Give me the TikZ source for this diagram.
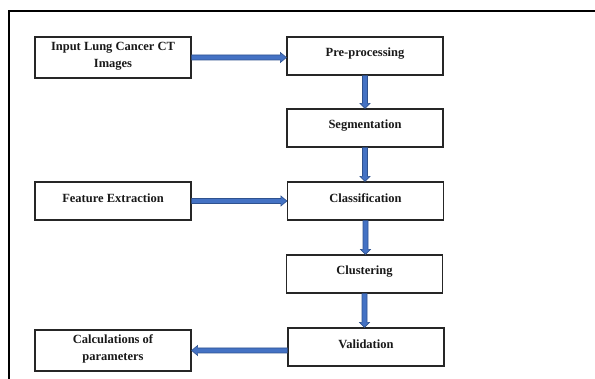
\documentclass[tikz,border=0pt]{standalone}
\usepackage{fontspec}
\setmainfont{Liberation Serif}
\usetikzlibrary{calc}
\definecolor{arrblue}{HTML}{4472C4}
\definecolor{arredge}{HTML}{2F528F}
\tikzset{
  box/.style={draw=black!85, line width=1.2pt, minimum width=156pt, minimum height=38pt, inner sep=0pt},
  lbl/.style={font=\fontsize{12.5}{17}\selectfont\bfseries, align=center, yshift=2.5pt, text=black!90},
  barrow/.style={fill=arrblue, draw=arredge, line width=0.6pt, line join=miter},
}
\begin{document}
\begin{tikzpicture}[x=1pt,y=-1pt]
\useasboundingbox (0,0) rectangle (595,379);
% frame
\draw[line width=2pt] (9,379) -- (9,11) -- (595,11);
% boxes
\node[box, minimum height=41pt, label={[lbl,yshift=-1pt,name=inpT]center:Input Lung Cancer CT\\Images}] (inp) at (113,57.5) {};
\node[box, label={[lbl,name=preT]center:Pre-processing}] (pre) at (365,56) {};
\node[box, label={[lbl,name=segT]center:Segmentation}] (seg) at (365,128) {};
\node[box, label={[lbl,name=claT]center:Classification}] (cla) at (365.5,201) {};
\node[box, label={[lbl,name=cluT]center:Clustering}] (clu) at (364.5,274) {};
\node[box, label={[lbl,name=valT]center:Validation}] (val) at (366,347) {};
\node[box, label={[lbl,name=feaT]center:Feature Extraction}] (fea) at (113,201) {};
\node[box, minimum height=41pt, label={[lbl,yshift=-1pt,name=calT]center:Calculations of\\parameters}] (cal) at (113,350.5) {};
% horizontal arrows (right)
\foreach \a/\b in {inp/pre, fea/cla}{
  \draw[barrow] ($(\a.east)+(0,-2.5)$) -- ($(\a.east -| \b.west)+(-6,-2.5)$) -- ($(\a.east -| \b.west)+(-6,-5)$)
    -- (\a.east -| \b.west) -- ($(\a.east -| \b.west)+(-6,5)$) -- ($(\a.east -| \b.west)+(-6,2.5)$) -- ($(\a.east)+(0,2.5)$) -- cycle;
}
% left arrow
\draw[barrow] ($(val.west |- cal.east)+(0,-2.5)$) -- ($(cal.east)+(6,-2.5)$) -- ($(cal.east)+(6,-5)$)
  -- (cal.east) -- ($(cal.east)+(6,5)$) -- ($(cal.east)+(6,2.5)$) -- ($(val.west |- cal.east)+(0,2.5)$) -- cycle;
% vertical arrows
\foreach \a/\b in {pre/seg, seg/cla, cla/clu, clu/val}{
  \draw[barrow] ($(\a.south)+(-2.5,0)$) -- ($(\a.south |- \b.north)+(-2.5,-5)$) -- ($(\a.south |- \b.north)+(-5,-5)$)
    -- (\a.south |- \b.north) -- ($(\a.south |- \b.north)+(5,-5)$) -- ($(\a.south |- \b.north)+(2.5,-5)$) -- ($(\a.south)+(2.5,0)$) -- cycle;
}
\end{tikzpicture}
\end{document}
